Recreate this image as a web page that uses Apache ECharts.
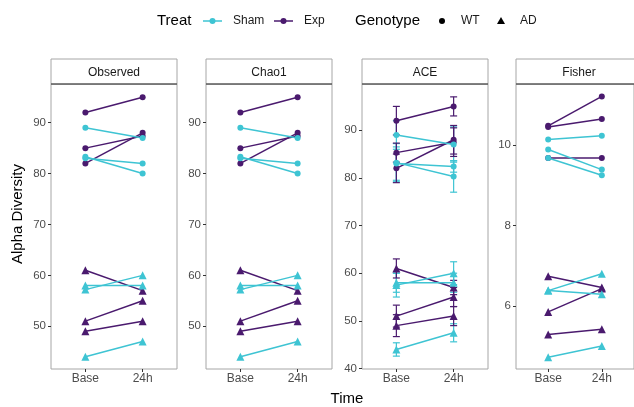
<!DOCTYPE html>
<html>
<head>
<meta charset="utf-8">
<script src="https://cdn.jsdelivr.net/npm/echarts@6/dist/echarts.min.js"></script>
<style>
html,body{margin:0;padding:0;background:#fff;}
#chart{width:634px;height:407px;}
</style>
</head>
<body>
<div id="chart"></div>
<script>
// ---- data ----
const timeLabels = ['Base', '24h'];
const metrics = ['Observed', 'Chao1', 'ACE', 'Fisher'];
const sampleTreat = ['Exp','Exp','Exp','Sham','Sham','Sham','Exp','Exp','Exp','Sham','Sham','Sham'];
const sampleGeno  = ['WT','WT','WT','WT','WT','WT','AD','AD','AD','AD','AD','AD'];

const observedBase = [92, 85, 82, 89, 83, 83.3, 61, 51, 49, 58, 57.2, 44];
const observed24h  = [95, 87.4, 88, 87, 82, 80, 57, 55, 51, 58, 60, 47];

const chao1Base = [92, 85, 82, 89, 83, 83.3, 61, 51, 49, 58, 57.2, 44];
const chao124h  = [95, 87.4, 88, 87, 82, 80, 57, 55, 51, 58, 60, 47];

const aceBase = [92, 85.3, 82, 89, 83, 83.2, 61, 51, 49, 58, 57.5, 44];
const ace24h  = [95, 87.5, 88, 87, 82.4, 80.3, 57, 55, 51, 58, 60, 47.5];
const aceBaseErr = [3, 2, 3, 3, 3.5, 4, 2, 2.3, 2.3, 2, 2.5, 1.4];
const ace24hErr  = [2, 3, 3, 3.7, 1.2, 3.3, 1.5, 2, 2, 2, 2.4, 1.9];

const fisherBase = [10.48, 10.45, 9.68, 10.14, 9.89, 9.68, 6.74, 5.85, 5.29, 6.38, 6.38, 4.72];
const fisher24h  = [11.21, 10.65, 9.68, 10.23, 9.39, 9.25, 6.46, 6.43, 5.42, 6.80, 6.29, 5.00];

const yTicksObserved = [50, 60, 70, 80, 90];
const yTicksChao1 = [50, 60, 70, 80, 90];
const yTicksACE = [40, 50, 60, 70, 80, 90];
const yTicksFisher = [6, 8, 10];

// ---- layout / style ----
const colors = { Sham: '#3EC4D3', Exp: '#4A1A6E' };
const symbols = { WT: 'circle', AD: 'triangle' };
const panelLefts = [51, 206, 362, 516];
const panelW = 126, panelTop = 84, panelH = 285, stripTop = 59;
const yRanges = [[41.6, 97.6], [41.6, 97.6], [39.9, 99.7], [4.43, 11.52]];
const FONT = 'Liberation Sans, Arial';

const baseVals = [observedBase, chao1Base, aceBase, fisherBase];
const endVals = [observed24h, chao124h, ace24h, fisher24h];
const yTicks = [yTicksObserved, yTicksChao1, yTicksACE, yTicksFisher];

const grids = [], xAxes = [], yAxes = [], series = [], graphics = [];

metrics.forEach((m, p) => {
  grids.push({ left: panelLefts[p], top: panelTop, width: panelW, height: panelH,
    show: true, borderColor: '#A6A6A6', borderWidth: 1, backgroundColor: '#fff' });
  xAxes.push({ type: 'value', gridIndex: p, min: 0.4, max: 2.6,
    axisLine: { show: false }, splitLine: { show: false },
    axisTick: { show: true, length: 3, customValues: [1, 2], lineStyle: { color: '#333' } },
    axisLabel: { customValues: [1, 2], formatter: v => timeLabels[Math.round(v) - 1],
      color: '#4D4D4D', fontSize: 12, margin: 4, fontFamily: FONT } });
  yAxes.push({ type: 'value', gridIndex: p, min: yRanges[p][0], max: yRanges[p][1],
    axisLine: { show: false }, splitLine: { show: false },
    axisTick: { show: true, length: 3, customValues: yTicks[p], lineStyle: { color: '#333' } },
    axisLabel: { customValues: yTicks[p], color: '#4D4D4D', fontSize: 11.5, margin: 5,
      fontFamily: FONT } });

  // error bars for ACE
  if (m === 'ACE') {
    ['Sham', 'Exp'].forEach(tr => {
      const d = [];
      sampleTreat.forEach((t, i) => {
        if (t !== tr) return;
        d.push([1, aceBase[i] - aceBaseErr[i], aceBase[i] + aceBaseErr[i]]);
        d.push([2, ace24h[i] - ace24hErr[i], ace24h[i] + ace24hErr[i]]);
      });
      series.push({
        type: 'custom', name: tr, xAxisIndex: p, yAxisIndex: p, z: 1,
        data: d,
        renderItem: (params, api) => {
          const x = api.value(0);
          const lo = api.coord([x, api.value(1)]);
          const hi = api.coord([x, api.value(2)]);
          const hw = 3.5;
          const st = { stroke: colors[tr], lineWidth: 1.2 };
          return { type: 'group', children: [
            { type: 'line', shape: { x1: lo[0], y1: lo[1], x2: hi[0], y2: hi[1] }, style: st },
            { type: 'line', shape: { x1: lo[0] - hw, y1: lo[1], x2: lo[0] + hw, y2: lo[1] }, style: st },
            { type: 'line', shape: { x1: hi[0] - hw, y1: hi[1], x2: hi[0] + hw, y2: hi[1] }, style: st }
          ]};
        }
      });
    });
  }

  sampleTreat.forEach((t, i) => {
    series.push({
      type: 'line', name: t, xAxisIndex: p, yAxisIndex: p, z: 2,
      symbol: symbols[sampleGeno[i]], symbolSize: sampleGeno[i] === 'WT' ? 6 : 8,
      color: colors[t], lineStyle: { width: 1.5, color: colors[t] },
      itemStyle: { color: colors[t] },
      animation: false, silent: true,
      data: [[1, baseVals[p][i]], [2, endVals[p][i]]]
    });
  });

  // strip
  graphics.push({ type: 'rect', shape: { x: panelLefts[p], y: stripTop, width: panelW, height: panelTop - stripTop },
    style: { fill: '#fff', stroke: '#A6A6A6', lineWidth: 1 }, z: 10 });
  graphics.push({ type: 'line', shape: { x1: panelLefts[p], y1: panelTop, x2: panelLefts[p] + panelW, y2: panelTop },
    style: { stroke: '#333', lineWidth: 1.2 }, z: 11 });
  graphics.push({ type: 'text', x: panelLefts[p] + panelW / 2, y: (stripTop + panelTop) / 2 + 1, z: 12,
    style: { text: m, fill: '#1A1A1A', font: '12px ' + FONT, align: 'center', verticalAlign: 'middle' } });
});

// axis titles
graphics.push({ type: 'text', x: 347, y: 399, z: 12,
  style: { text: 'Time', fill: '#000', font: '15px ' + FONT, align: 'center', verticalAlign: 'middle' } });
graphics.push({ type: 'text', x: 18, y: 214, rotation: Math.PI / 2, z: 12,
  style: { text: 'Alpha Diversity', fill: '#000', font: '15px ' + FONT, align: 'center', verticalAlign: 'middle' } });

// legend
const ly = 21;
graphics.push({ type: 'text', x: 157, y: ly, z: 12,
  style: { text: 'Treat', fill: '#000', font: '15px ' + FONT, align: 'left', verticalAlign: 'middle' } });
[['Sham', 203, 233], ['Exp', 274, 304]].forEach(([n, x0, tx]) => {
  graphics.push({ type: 'line', shape: { x1: x0, y1: ly, x2: x0 + 19, y2: ly }, style: { stroke: colors[n], lineWidth: 1.5 }, z: 12 });
  graphics.push({ type: 'circle', shape: { cx: x0 + 9.5, cy: ly, r: 3 }, style: { fill: colors[n] }, z: 12 });
  graphics.push({ type: 'text', x: tx, y: ly, z: 12,
    style: { text: n, fill: '#1A1A1A', font: '12px ' + FONT, align: 'left', verticalAlign: 'middle' } });
});
graphics.push({ type: 'text', x: 355, y: ly, z: 12,
  style: { text: 'Genotype', fill: '#000', font: '15px ' + FONT, align: 'left', verticalAlign: 'middle' } });
graphics.push({ type: 'circle', shape: { cx: 442, cy: ly, r: 3 }, style: { fill: '#000' }, z: 12 });
graphics.push({ type: 'text', x: 461, y: ly, z: 12,
  style: { text: 'WT', fill: '#1A1A1A', font: '12px ' + FONT, align: 'left', verticalAlign: 'middle' } });
graphics.push({ type: 'polygon', shape: { points: [[501, ly - 4], [505, ly + 3], [497, ly + 3]] }, style: { fill: '#000' }, z: 12 });
graphics.push({ type: 'text', x: 520, y: ly, z: 12,
  style: { text: 'AD', fill: '#1A1A1A', font: '12px ' + FONT, align: 'left', verticalAlign: 'middle' } });

const chart = echarts.init(document.getElementById('chart'), null, { renderer: 'canvas' });
chart.setOption({
  backgroundColor: '#fff',
  animation: false,
  grid: grids, xAxis: xAxes, yAxis: yAxes, series: series,
  graphic: graphics
});
</script>
</body>
</html>
